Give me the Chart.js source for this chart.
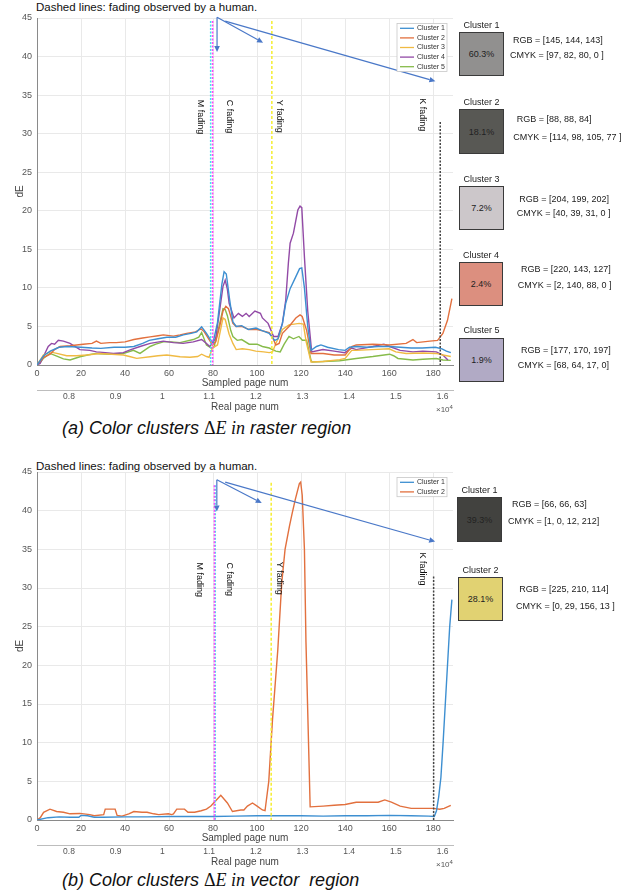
<!DOCTYPE html>
<html><head><meta charset="utf-8">
<script src="https://cdn.jsdelivr.net/npm/chart.js@4.4.0/dist/chart.umd.min.js"></script>
<style>
body{margin:0;background:#fff;width:629px;height:896px;position:relative;overflow:hidden;font-family:"Liberation Sans",Arial,sans-serif;}
.t{position:absolute;white-space:nowrap;transform:translateY(-50%);line-height:1;}
canvas{position:absolute;left:0;}
.box{position:absolute;border:1.5px solid #3a3a3a;box-sizing:border-box;display:flex;align-items:center;justify-content:center;font-size:9px;color:#222;}
.cap{position:absolute;white-space:nowrap;transform:translateY(-50%);font-style:italic;font-size:18px;color:#111;line-height:1;}
.ser{font-family:"Liberation Serif","Times New Roman",serif;}
</style></head>
<body>
<div class="t" style="left:36px;top:8px;font-size:11.5px;color:#111">Dashed lines: fading observed by a human.</div>
<div class="t" style="left:36px;top:467px;font-size:11.5px;color:#111">Dashed lines: fading observed by a human.</div>
<canvas id="c1" width="460" height="415" style="top:0px"></canvas>
<canvas id="c2" width="460" height="415" style="top:455px"></canvas>
<div class="t" style="left:436px;top:409px;font-size:8px;color:#555">×10<sup style="font-size:6px">4</sup></div>
<div class="t" style="left:436px;top:864px;font-size:8px;color:#555">×10<sup style="font-size:6px">4</sup></div>
<div class="cap" style="left:62px;top:428px">(a) Color clusters <span class="ser" style="font-style:normal">Δ</span><span class="ser">E in</span> raster region</div>
<div class="cap" style="left:62px;top:880px">(b) Color clusters <span class="ser" style="font-style:normal">Δ</span><span class="ser">E in</span> vector&nbsp; region</div>
<div id="sw"></div>
<script>
// ---------- DATA ----------
const seriesNames = ['Cluster 1','Cluster 2','Cluster 3','Cluster 4','Cluster 5'];
const xTicks = [0,20,40,60,80,100,120,140,160,180];
const yTicks = [0,5,10,15,20,25,30,35,40,45];
const realTicks = [0.8,0.9,1.0,1.1,1.2,1.3,1.4,1.5,1.6];
const realRange = [0.7315, 1.6223];

const rasterC1 = [[0,0],[3,1.2],[6,1.8],[10,2.3],[14,2.4],[20,2.3],[25,2.2],[29,2.15],[35,2.3],[40,2.3],[44,2.4],[48,2.8],[51,3.2],[55,3.4],[59,3.6],[63,3.6],[66.5,3.9],[70,4.1],[72.6,4.3],[74.8,4.95],[77,4.1],[79,3.2],[80,2.9],[82,5.5],[84,10.5],[85,12.1],[86,11.8],[87.5,8.5],[89,5.6],[90.5,5.0],[93,5.1],[96,4.6],[99.5,4.8],[102,4.5],[105.5,4.1],[108,3.2],[109.5,3.4],[111.5,5.4],[113,8.0],[115,9.9],[117.5,11.4],[119.3,12.5],[120.3,12.6],[121.5,10],[123,5],[124.5,1.9],[127,2.4],[129,2.6],[132,2.3],[137,2.0],[140,1.9],[142,2.3],[145,2.4],[150,2.3],[155,2.4],[160,2.4],[165,2.3],[170,2.2],[175,2.2],[181,2.3],[184,2.1],[186,1.8],[188,1.6]];
const rasterC2 = [[0,0],[3,1.0],[6,1.4],[8,2.0],[10.5,2.4],[15,2.5],[21,2.7],[25,2.8],[27,3.1],[29,2.8],[33,2.9],[36,2.9],[40,3.0],[44,3.3],[48,3.5],[51.4,3.65],[55,3.8],[57.4,3.9],[62,3.75],[65,3.9],[68,4.1],[72,4.3],[74.5,4.7],[76,4.3],[77.5,3.6],[79.7,2.6],[81.2,3.0],[83,5.0],[84.5,7.0],[85.8,7.6],[87,7.3],[89,5.4],[90.5,5.0],[93,5.0],[96.4,4.6],[100,4.6],[103,4.4],[105.5,4.2],[107,3.6],[108.5,2.6],[110,2.8],[111.5,4.1],[114.5,5.0],[117.6,6.1],[119.5,6.5],[120.5,6.3],[122.5,4.5],[124.5,1.5],[130,1.5],[135,1.3],[140,1.3],[143,2.4],[145,2.6],[152.6,2.7],[160,2.6],[167.7,2.8],[170.8,3.3],[172.5,2.9],[178.5,3.1],[182,3.2],[184.4,4.1],[186.5,5.8],[188.5,8.6]];
const rasterC3 = [[0,0],[2.9,1.3],[5.9,1.7],[9,1.5],[13.5,1.2],[18,1.2],[22.6,1.3],[28.6,1.5],[34,1.4],[39.2,1.3],[42,1.1],[45.3,0.86],[51.4,1.07],[55,1.2],[59,1.3],[65,1.07],[69.5,1.0],[73,1.1],[74.8,1.4],[77,1.1],[78.2,1.0],[79.7,2.2],[82,2.6],[84.5,6.1],[85.5,5.9],[87.3,4.0],[89,2.8],[90.5,2.0],[93.3,2.1],[96.4,2.0],[99.4,1.8],[103,1.7],[105.5,1.6],[107,1.7],[108.5,2.8],[111.5,4.6],[114.5,5.2],[119.1,5.4],[121,5.3],[122.3,3.0],[124.5,0.4],[130,0.45],[137.5,0.7],[140,0.85],[143,1.9],[145,1.9],[152,2.0],[160,2.1],[163,1.7],[167.7,1.5],[175.3,1.55],[181.4,1.5],[184.4,1.3],[188,1.1]];
const rasterC4 = [[0,0],[1.4,0.2],[5.1,2.4],[6.6,2.8],[8,2.7],[9.7,3.2],[12,3.1],[15,2.8],[19.5,2.0],[24,1.9],[27,1.7],[31,1.6],[34.7,1.5],[39.2,1.6],[42.3,1.95],[46.8,2.4],[51.4,2.8],[57.4,3.1],[62,2.9],[66.4,2.8],[71,3.0],[74.8,3.3],[77,2.8],[78.5,2.4],[79.7,2.8],[81.2,3.5],[82.7,6.5],[84.5,10.2],[85.5,11.0],[86.5,9.8],[87.3,8.0],[89.5,6.1],[91.5,6.7],[93.3,6.3],[95,6.7],[96.4,6.3],[99,7.0],[101.5,6.7],[102.4,6.1],[105,5.4],[107.5,3.7],[109.5,3.7],[111.5,5.4],[113,8.4],[114.2,13.2],[115,15.8],[116.5,17.1],[118.5,20.1],[119.5,20.6],[120.3,20.4],[121.5,14],[123,7],[124.8,1.7],[129.9,2.0],[135,1.8],[139.8,1.6],[143,2.2],[145,2.0],[152.6,2.4],[157.6,2.7],[160.2,2.4],[165,1.9],[170.8,1.7],[175.3,1.8],[181.4,1.7],[184.4,1.3],[186.7,0.65]];
const rasterC5 = [[0,0],[1.4,0.3],[3,0.9],[5.9,1.5],[9,1.15],[12,0.8],[15,0.65],[19.5,1.07],[23,1.3],[27,1.5],[33,1.4],[39.2,1.5],[43.8,1.9],[46.8,1.5],[51.4,2.4],[54,2.7],[57.4,3.0],[61,3.0],[65,2.9],[71,3.3],[73.5,3.6],[74.8,4.2],[77,2.6],[79.4,2.15],[80.5,2.4],[82.7,5.0],[84.5,7.3],[85.5,7.2],[86.5,6.4],[88,4.5],[89,3.7],[91,3.2],[93,3.3],[96.4,2.7],[100,2.7],[102.4,2.4],[105.5,2.2],[108.5,1.8],[110.5,1.7],[112.3,2.7],[114.5,3.7],[116.5,3.4],[119,3.7],[120.6,3.2],[122.5,3.2],[124.5,0.6],[125,0.4],[130,0.45],[137.5,0.55],[145,0.85],[152.6,1.1],[160.2,1.4],[162,1.2],[164,0.85],[170.8,0.65],[175.3,0.75],[181.4,0.85],[184.4,0.65],[188,0.6]];

const vectorC1 = [[0,0],[5,0.3],[10,0.4],[15,0.35],[19,0.35],[20,0.6],[23,0.55],[26,0.35],[30,0.35],[40,0.4],[50,0.4],[60,0.45],[70,0.45],[80,0.45],[90,0.5],[100,0.55],[110,0.55],[120,0.55],[130,0.5],[140,0.55],[150,0.55],[160,0.6],[170,0.55],[178,0.5],[180.5,0.45],[181.5,1.2],[182.5,3],[183.5,5.5],[184.5,10],[185.5,15],[186.5,20],[187.5,25],[188.5,28.5]];
const vectorC2 = [[0,0],[1.5,0.3],[3,1.0],[5.9,1.4],[8.9,1.1],[12,1.0],[15,0.8],[19.5,0.85],[24,0.7],[26,0.55],[30.3,0.7],[31,1.4],[35.5,1.4],[36.4,0.6],[38.6,0.5],[41.7,0.8],[44,1.1],[47.7,1.0],[50,1.0],[53,0.8],[55.3,0.7],[59.7,0.8],[61.2,0.7],[62,0.8],[63.5,1.4],[67,1.4],[68.6,1.0],[71.6,1.0],[74.6,1.2],[77,1.4],[79,1.8],[81.2,2.5],[83.5,3.2],[86.5,2.2],[88.8,1.1],[92.6,1.3],[94,1.3],[95.6,1.8],[97.9,2.2],[100,1.8],[102.4,1.3],[103.6,1.2],[105.3,5],[107,13],[109.4,22],[111.2,30.7],[112.7,35],[114.7,38],[115.8,39.5],[117.3,41.4],[119.2,43.5],[119.8,43.7],[120.5,42],[121.5,35],[122.2,23],[124.1,1.7],[130,1.8],[135,1.9],[140,2.0],[145,2.3],[150,2.3],[155,2.3],[158,2.6],[161,2.3],[165,1.8],[170,1.5],[175,1.5],[180,1.5],[183,1.4],[185,1.5],[188,1.9]];

// human-observed fading (sampled page num, top dE)
const rasterFading = [['C',78.9,44.6],['M',79.8,44.6],['Y',106.7,44.6],['K',183.2,31.5]];
const vectorFading = [['C',81.0,43.3],['M',80.6,43.3],['Y',106.4,43.6],['K',180.2,31.5]];
const rasterFadeLabels = [['M fading',74.1,34.4],['C fading',87.3,34.4],['Y fading',110,34.4],['K fading',175,34.6]];
const vectorFadeLabels = [['M fading',73.8,33.3],['C fading',87.3,33.3],['Y fading',110,33.4],['K fading',175,34.6]];
const rasterArrows = [[81.8,45.1,81.8,40.6],[81.8,45.1,102.7,41.8],[85.5,44.6,181,36.8]];
const vectorArrows = [[81.7,44,81.7,39.9],[81.7,44,102.1,41],[85.5,43.7,180.9,36.0]];

// cluster swatches
const rasterPct = ['60.3%','18.1%','7.2%','2.4%','1.9%'];
const rasterRGB = [[145,144,143],[88,88,84],[204,199,202],[220,143,127],[177,170,197]];
const rasterCMYK = ['[97, 82, 80, 0 ]','[114, 98, 105, 77 ]','[40, 39, 31, 0 ]','[2, 140, 88, 0 ]','[68, 64, 17, 0]'];
const vectorPct = ['39.3%','28.1%'];
const vectorRGB = [[66,66,63],[225,210,114]];
const vectorCMYK = ['[1, 0, 12, 212]','[0, 29, 156, 13 ]'];

// ---------- STYLE ----------
const lineColors = ['#3d8fd1','#e2703e','#f0ba43','#924aa6','#86bb4a'];
const fadeStyle = {C:{c:'#45dff0',d:[2,1.5]}, M:{c:'#ff45ff',d:[2,1.5]}, Y:{c:'#f5ee30',d:[3,2]}, K:{c:'#444',d:[2,1.5]}};
const FONT = '"Liberation Sans", Arial, sans-serif';

const annot = {
  id:'annot',
  afterDatasetsDraw(chart, args, opts){
    const ctx = chart.ctx, xs = chart.scales.x, ys = chart.scales.y;
    ctx.save();
    opts.fading.forEach(([k,x,top])=>{
      const st = fadeStyle[k];
      ctx.strokeStyle = st.c; ctx.lineWidth = 1.5; ctx.setLineDash(st.d);
      const px = xs.getPixelForValue(x);
      ctx.beginPath(); ctx.moveTo(px, ys.getPixelForValue(top)); ctx.lineTo(px, ys.getPixelForValue(0)); ctx.stroke();
    });
    ctx.setLineDash([]);
    ctx.fillStyle = '#111'; ctx.font = '9px '+FONT; ctx.textAlign='left'; ctx.textBaseline='middle';
    opts.labels.forEach(([t,x,y])=>{
      ctx.save(); ctx.translate(xs.getPixelForValue(x), ys.getPixelForValue(y)); ctx.rotate(Math.PI/2); ctx.fillText(t,0,0); ctx.restore();
    });
    ctx.strokeStyle = '#4a78c8'; ctx.fillStyle = '#4a78c8'; ctx.lineWidth = 1.2;
    opts.arrows.forEach(([x0,y0,x1,y1])=>{
      const a = xs.getPixelForValue(x0), b = ys.getPixelForValue(y0), c = xs.getPixelForValue(x1), d = ys.getPixelForValue(y1);
      const ang = Math.atan2(d-b, c-a), L = 6, W = 2.8;
      const bx = c - L*Math.cos(ang), by = d - L*Math.sin(ang);
      ctx.beginPath(); ctx.moveTo(a,b); ctx.lineTo(bx,by); ctx.stroke();
      ctx.beginPath(); ctx.moveTo(c,d);
      ctx.lineTo(bx - W*Math.sin(ang), by + W*Math.cos(ang));
      ctx.lineTo(bx + W*Math.sin(ang), by - W*Math.cos(ang)); ctx.closePath(); ctx.fill();
    });
    // legend
    const ds = chart.data.datasets, area = chart.chartArea;
    const rh = 9.6, w = 50, h = ds.length*rh, lx = area.right - 56, ly = area.top + 5.5;
    ctx.fillStyle = '#fff'; ctx.fillRect(lx,ly,w,h);
    ctx.strokeStyle = '#c8c8c8'; ctx.lineWidth = 0.8; ctx.strokeRect(lx,ly,w,h);
    ctx.font = '7px '+FONT; ctx.textBaseline='middle';
    ds.forEach((d,i)=>{
      const cy = ly + rh*(i+0.5);
      ctx.strokeStyle = d.borderColor; ctx.lineWidth = 1.3;
      ctx.beginPath(); ctx.moveTo(lx+3,cy); ctx.lineTo(lx+17,cy); ctx.stroke();
      ctx.fillStyle = '#333'; ctx.fillText(d.label, lx+20, cy);
    });
    ctx.restore();
  }
};

function makeChart(id, series, fading, labels, arrows, padTop){
  const datasets = series.map((s,i)=>({label:seriesNames[i], data:s, borderColor:lineColors[i], backgroundColor:lineColors[i], borderWidth:1.4, pointRadius:0, tension:0, fill:false}));
  return new Chart(document.getElementById(id), {
    type:'line',
    data:{datasets},
    plugins:[annot],
    options:{
      responsive:false, animation:false, devicePixelRatio:1,
      layout:{padding:{left:0,top:padTop,right:7,bottom:2}},
      plugins:{legend:{display:false}, tooltip:{enabled:false}, annot:{fading, labels, arrows}},
      scales:{
        x:{type:'linear', position:'bottom', min:0, max:189,
          afterBuildTicks:s=>{s.ticks = xTicks.map(v=>({value:v}));},
          afterFit:s=>{s.height = 25;},
          ticks:{font:{size:9,family:FONT}, color:'#555', padding:3, maxRotation:0, autoSkip:false},
          grid:{color:'#e9e9e9', drawTicks:false},
          border:{color:'#8a8a8a'},
          title:{display:true, text:'Sampled page num', font:{size:10,family:FONT}, color:'#444', padding:{top:0,bottom:1}}},
        x2:{type:'linear', position:'bottom', min:realRange[0], max:realRange[1],
          afterBuildTicks:s=>{s.ticks = realTicks.map(v=>({value:v}));},
          afterFit:s=>{s.height = 23;},
          ticks:{font:{size:8.5,family:FONT}, color:'#555', padding:2, maxRotation:0, autoSkip:false, callback:v=>String(Math.round(v*10)/10)},
          grid:{display:false, drawTicks:false},
          border:{color:'#bdbdbd'},
          title:{display:true, text:'Real page num', font:{size:10,family:FONT}, color:'#444', padding:{top:0,bottom:0}}},
        y:{type:'linear', min:0, max:45,
          afterBuildTicks:s=>{s.ticks = yTicks.map(v=>({value:v}));},
          afterFit:s=>{s.width = 37;},
          ticks:{font:{size:9,family:FONT}, color:'#555', padding:5},
          grid:{color:'#e9e9e9', drawTicks:false},
          border:{color:'#8a8a8a'},
          title:{display:true, text:'dE', font:{size:10,family:FONT}, color:'#444', padding:{top:14,bottom:0}}}
      }
    }
  });
}
makeChart('c1', [rasterC1,rasterC2,rasterC3,rasterC4,rasterC5], rasterFading, rasterFadeLabels, rasterArrows, 18);
makeChart('c2', [vectorC1,vectorC2], vectorFading, vectorFadeLabels, vectorArrows, 17);

// swatches
const swLayoutTop = [
  {lab:25, box:[459,32,45,44], rgb:[513,40], cmyk:[510,55]},
  {lab:102, box:[459,109,45,45], rgb:[516.7,119], cmyk:[513.3,137]},
  {lab:179, box:[459,186,45,44], rgb:[519.3,199], cmyk:[516.7,213]},
  {lab:255, box:[459,262,44,44], rgb:[521,269], cmyk:[517.7,285]},
  {lab:330, box:[459,338,45,44], rgb:[521,350], cmyk:[517.7,365]}
];
const swLayoutBot = [
  {lab:490, box:[457,497,45,45], rgb:[512,504], cmyk:[508,521]},
  {lab:570, box:[458,577,45,44], rgb:[519.3,589], cmyk:[516,606]}
];
function swatches(pct, rgb, cmyk, layout){
  let h = '';
  pct.forEach((p,i)=>{
    const L = layout[i], [bx,by,bw,bh] = L.box;
    h += `<div class="t" style="left:${bx}px;width:${bw}px;text-align:center;top:${L.lab}px;font-size:9px;color:#222">Cluster ${i+1}</div>`;
    h += `<div class="box" style="left:${bx}px;top:${by}px;width:${bw}px;height:${bh}px;background:rgb(${rgb[i].join(',')})">${p}</div>`;
    h += `<div class="t" style="left:${L.rgb[0]}px;top:${L.rgb[1]}px;font-size:9px;color:#222">RGB = [${rgb[i].join(', ')}]</div>`;
    h += `<div class="t" style="left:${L.cmyk[0]}px;top:${L.cmyk[1]}px;font-size:9px;color:#222">CMYK = ${cmyk[i]}</div>`;
  });
  return h;
}
document.getElementById('sw').innerHTML = swatches(rasterPct, rasterRGB, rasterCMYK, swLayoutTop) + swatches(vectorPct, vectorRGB, vectorCMYK, swLayoutBot);
</script>
</body></html>
